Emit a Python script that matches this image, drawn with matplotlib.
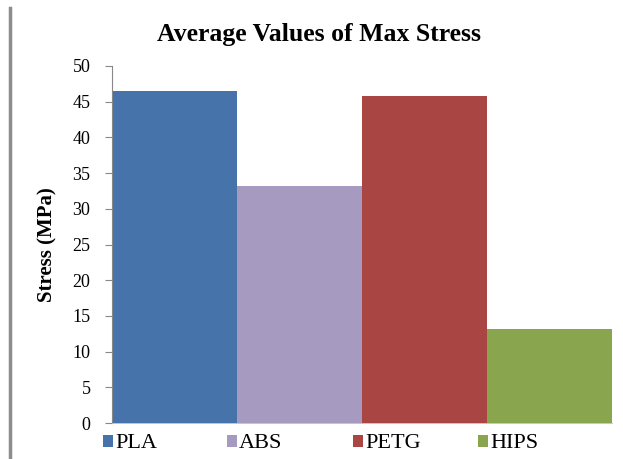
import matplotlib.pyplot as plt
from matplotlib.lines import Line2D
from matplotlib.patches import Patch

materials = ["PLA", "ABS", "PETG", "HIPS"]
max_stress = [46.5, 33.2, 45.8, 13.2]
bar_colors = ["#4573AA", "#A79AC0", "#A94644", "#89A54E"]
y_ticks = [0, 5, 10, 15, 20, 25, 30, 35, 40, 45, 50]
legend_x = [103, 227, 353, 478]  # pixel position of each legend entry

plt.rcParams["font.family"] = ["Liberation Serif", "DejaVu Serif"]

W, H = 623, 459
fig = plt.figure(figsize=(W / 100, H / 100), dpi=100)
ax = fig.add_axes([112 / W, 1 - 423 / H, 500 / W, 357 / H])

ax.bar(range(len(materials)), max_stress, width=1.0, color=bar_colors)
ax.set_xlim(-0.5, len(materials) - 0.5)
ax.set_ylim(0, 50)
ax.set_yticks(y_ticks)
ax.set_xticks([])
ax.tick_params(axis="y", labelsize=13, length=5, color="#888888", pad=10.5)

for side in ("top", "right"):
    ax.spines[side].set_visible(False)
ax.spines["left"].set_color("#888888")
ax.spines["bottom"].set_color("#BBBBBB")
ax.spines["bottom"].set_linewidth(0.6)

ax.set_ylabel("Stress (MPa)", fontsize=15, fontweight="bold", labelpad=11)
fig.text(319 / W, 1 - 35 / H, "Average Values of Max Stress",
         ha="center", va="center", fontsize=18.5, fontweight="bold")

# one legend per entry so the spacing stays even
for name, color, x in zip(materials, bar_colors, legend_x):
    fig.legend([Patch(facecolor=color, edgecolor="none")], [name],
               loc="center left", bbox_to_anchor=(x / W, 1 - 444 / H),
               frameon=False, fontsize=16, handlelength=0.45, handleheight=0.45,
               handletextpad=0.1, borderaxespad=0, borderpad=0)

# grey border line on the left of the image
fig.add_artist(Line2D([10 / W, 10 / W], [0, 1 - 8 / H], transform=fig.transFigure,
                      color="#8C8C8C", linewidth=2.5))

fig.savefig("out.png", dpi=100)
